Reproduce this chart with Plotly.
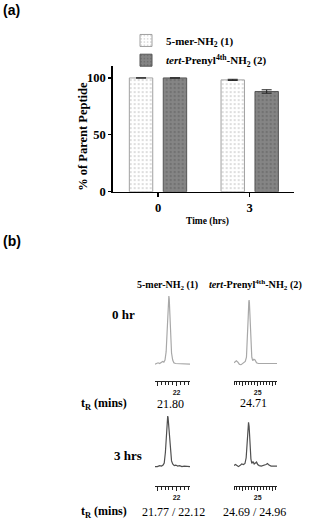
import plotly.graph_objects as go

# ---------------- data ----------------
time_cats = ["0", "3"]
pct_5mer = [100, 98.3]
err_5mer = [0, 0.5]
pct_prenyl = [100, 88.1]
err_prenyl = [0, 1.5]
y_ticks = [0, 50, 100]

# chromatograms (retention time in min, normalised absorbance)
c1_0h_t = [21.44, 21.48, 21.52, 21.56, 21.60, 21.64, 21.67, 21.70, 21.73, 21.75, 21.77, 21.79, 21.80,
           21.81, 21.83, 21.85, 21.87, 21.90, 21.93, 21.97, 22.02, 22.10, 22.20, 22.35]
c1_0h_y = [0.02, 0.03, 0.04, 0.03, 0.05, 0.06, 0.05, 0.08, 0.20, 0.45, 0.75, 0.95, 1.00,
           0.96, 0.70, 0.40, 0.18, 0.08, 0.04, 0.03, 0.03, 0.02, 0.02, 0.02]

c2_0h_t = [24.20, 24.24, 24.28, 24.33, 24.38, 24.43, 24.48, 24.53, 24.58, 24.62, 24.65, 24.68, 24.70,
           24.71, 24.72, 24.74, 24.77, 24.80, 24.83, 24.87, 24.91, 24.96, 25.02, 25.10, 25.25, 25.40, 25.65]
c2_0h_y = [0.04, 0.06, 0.07, 0.05, 0.02, 0.01, 0.03, 0.05, 0.06, 0.12, 0.33, 0.70, 0.92,
           0.94, 0.90, 0.66, 0.33, 0.12, 0.07, 0.09, 0.08, 0.04, 0.03, 0.03, 0.03, 0.03, 0.03]

c1_3h_t = [21.44, 21.50, 21.56, 21.61, 21.65, 21.68, 21.71, 21.73, 21.75, 21.76, 21.77, 21.78, 21.80,
           21.82, 21.84, 21.87, 21.90, 21.94, 21.98, 22.03, 22.08, 22.14, 22.20, 22.28, 22.35]
c1_3h_y = [0.03, 0.03, 0.05, 0.04, 0.06, 0.10, 0.30, 0.60, 0.90, 0.99, 1.00, 0.97, 0.80,
           0.55, 0.30, 0.14, 0.08, 0.05, 0.06, 0.04, 0.05, 0.03, 0.04, 0.03, 0.03]

c2_3h_t = [24.20, 24.25, 24.30, 24.35, 24.40, 24.46, 24.52, 24.57, 24.61, 24.64, 24.67, 24.69, 24.71,
           24.74, 24.77, 24.80, 24.84, 24.88, 24.92, 24.96, 25.00, 25.05, 25.12, 25.20, 25.28, 25.33,
           25.38, 25.45, 25.55, 25.65]
c2_3h_y = [0.05, 0.07, 0.05, 0.03, 0.05, 0.08, 0.07, 0.09, 0.20, 0.50, 0.82, 0.88, 0.80,
           0.45, 0.18, 0.09, 0.13, 0.08, 0.10, 0.12, 0.07, 0.05, 0.04, 0.05, 0.07, 0.09,
           0.06, 0.04, 0.04, 0.04]

ruler1_range = [21.44, 22.35]
ruler2_range = [24.20, 25.65]
ruler1_label = 22
ruler2_label = 25

# ---------------- figure ----------------
W, H = 311, 527
def px(x): return x / W
def py(y): return 1 - y / H

SERIF = "Liberation Serif"
SANS = "Liberation Sans"

fig = go.Figure()

fig.add_trace(go.Bar(
    x=time_cats, y=pct_5mer, name="<b>5-mer-NH<sub>2</sub> (1)</b>",
    error_y=dict(type="data", array=err_5mer, color="#222", thickness=1, width=5),
    marker=dict(color="white", line=dict(color="#a0a0a0", width=1),
                pattern=dict(shape=".", bgcolor="white", fgcolor="#a8a8a8", size=4, solidity=0.2)),
    xaxis="x", yaxis="y", legend="legend"))
fig.add_trace(go.Bar(
    x=time_cats, y=pct_prenyl, name="<b><i>tert</i>-Prenyl<sup>4th</sup>-NH<sub>2</sub> (2)</b>",
    error_y=dict(type="data", array=err_prenyl, color="#222", thickness=1, width=5),
    marker=dict(color="#808080", line=dict(color="#555", width=1),
                pattern=dict(shape=".", bgcolor="#858585", fgcolor="#5a5a5a", size=4, solidity=0.25)),
    xaxis="x", yaxis="y", legend="legend2"))

light = "#a8a8a8"
dark = "#505050"
fig.add_trace(go.Scatter(x=c1_0h_t, y=c1_0h_y, mode="lines", line=dict(color=light, width=1.2),
                         xaxis="x2", yaxis="y2", showlegend=False))
fig.add_trace(go.Scatter(x=c2_0h_t, y=c2_0h_y, mode="lines", line=dict(color=light, width=1.2),
                         xaxis="x3", yaxis="y3", showlegend=False))
fig.add_trace(go.Scatter(x=c1_3h_t, y=c1_3h_y, mode="lines", line=dict(color=dark, width=1.2),
                         xaxis="x4", yaxis="y4", showlegend=False))
fig.add_trace(go.Scatter(x=c2_3h_t, y=c2_3h_y, mode="lines", line=dict(color=dark, width=1.2),
                         xaxis="x5", yaxis="y5", showlegend=False))

axis_font = dict(family=SERIF, size=12.5, color="black")

layout = dict(
    width=W, height=H,
    margin=dict(l=0, r=0, t=0, b=0),
    paper_bgcolor="white", plot_bgcolor="rgba(0,0,0,0)",
    font=dict(family=SERIF, color="black"),
    barmode="group", bargap=0.26, bargroupgap=0.31,
    xaxis=dict(domain=[px(112.7), px(294)], anchor="y", type="category",
               range=[-0.494, 1.483], showline=True, linecolor="black", linewidth=1.5,
               ticks="outside", ticklen=4, tickwidth=1.2, tickcolor="black",
               tickvals=time_cats, ticktext=[f"<b>{c}</b>" for c in time_cats],
               tickfont=axis_font, showgrid=False, zeroline=False, fixedrange=True),
    yaxis=dict(domain=[py(194.3), py(67)], anchor="x", range=[0, 110.4],
               showline=True, linecolor="black", linewidth=1.5,
               ticks="outside", ticklen=3, tickwidth=1.2, tickcolor="black",
               tickvals=y_ticks, ticktext=[f"<b>{v}</b>" for v in y_ticks],
               tickfont=axis_font, showgrid=False, zeroline=False, fixedrange=True),
    legend=dict(x=px(126), y=py(41), xanchor="left", yanchor="middle",
                font=dict(family=SERIF, size=11, color="black"), bgcolor="rgba(0,0,0,0)"),
    legend2=dict(x=px(126), y=py(61), xanchor="left", yanchor="middle",
                 font=dict(family=SERIF, size=11, color="black"), bgcolor="rgba(0,0,0,0)"),
)

def ruler_axis(dom, rng, label, pos):
    return dict(domain=dom, range=rng, anchor="free", position=pos,
                showline=True, linecolor="#222", linewidth=1,
                ticks="outside", ticklen=4, tickwidth=1, tickcolor="#222",
                tickmode="array", tickvals=[label - 0.5, label, label + 0.5],
                ticktext=["", f"<b>{label}</b>", ""],
                tickfont=dict(family=SANS, size=7, color="#222"),
                minor=dict(tickmode="linear", tick0=0, dtick=0.1, ticklen=2.5,
                           tickwidth=1, tickcolor="#222", ticks="outside", showgrid=False),
                showgrid=False, zeroline=False, fixedrange=True)

def chrom_y(dom, xa):
    return dict(domain=dom, range=[0, 1], anchor=xa, visible=False, fixedrange=True)

col1_dom = [px(155), px(190)]
col2_dom = [px(234), px(277)]
row1_dom = [py(370.5), py(300)]
row2_dom = [py(474.5), py(421.7)]
row1_ruler = py(386.5)
row2_ruler = py(493)

layout["xaxis2"] = ruler_axis(col1_dom, ruler1_range, ruler1_label, row1_ruler)
layout["xaxis3"] = ruler_axis(col2_dom, ruler2_range, ruler2_label, row1_ruler)
layout["xaxis4"] = ruler_axis(col1_dom, ruler1_range, ruler1_label, row2_ruler)
layout["xaxis5"] = ruler_axis(col2_dom, ruler2_range, ruler2_label, row2_ruler)
layout["yaxis2"] = chrom_y(row1_dom, "x2")
layout["yaxis3"] = chrom_y(row1_dom, "x3")
layout["yaxis4"] = chrom_y(row2_dom, "x4")
layout["yaxis5"] = chrom_y(row2_dom, "x5")

fig.update_layout(**layout)

def note(text, x, y, size=11, family=SERIF, angle=0, anchor="center"):
    fig.add_annotation(text=text, x=px(x), y=py(y), xref="paper", yref="paper",
                       xanchor=anchor, yanchor="middle", showarrow=False, textangle=angle,
                       font=dict(family=family, size=size, color="black"))

note("<b>(a)</b>", 1, 10, size=14, family=SANS, anchor="left")
note("<b>(b)</b>", 1, 244, size=14, family=SANS, anchor="left")
note("<b>% of Parent Peptide</b>", 82.7, 138, size=12.5, angle=-90)
note("<b>Time (hrs)</b>", 207, 224, size=9.5)

note("<b>5-mer-NH<sub>2</sub> (1)</b>", 167, 289, size=10)
note("<b><i>tert</i>-Prenyl<sup>4th</sup>-NH<sub>2</sub> (2)</b>", 255, 289, size=10.2)
note("<b>0 hr</b>", 123, 319, size=13)
note("<b>3 hrs</b>", 127.5, 462, size=13)
note("<b>t<sub>R</sub> (mins)</b>", 103.5, 409, size=12)
note("<b>t<sub>R</sub> (mins)</b>", 103.5, 519, size=12)
note("21.80", 171, 409, size=12)
note("24.71", 253, 408, size=12)
note("21.77 / 22.12", 173.3, 519, size=12)
note("24.69 / 24.96", 254.7, 519, size=12)

fig.write_html("out.html", config={"displayModeBar": False, "staticPlot": True},
               post_script="document.body.style.margin='0px';")
